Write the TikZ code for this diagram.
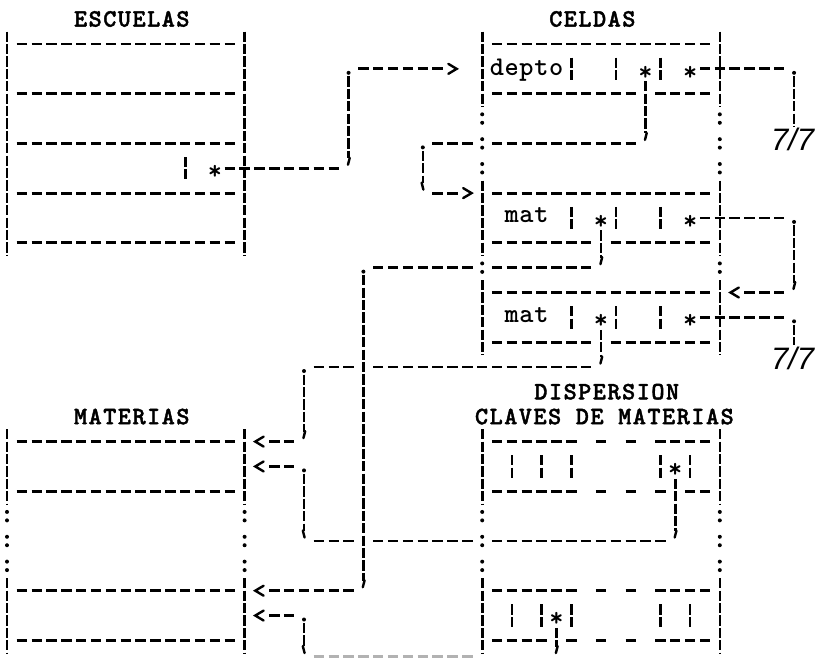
\documentclass[tikz,border=0pt]{standalone}
\usepackage{fontspec}
\setsansfont{Liberation Sans}
\newfontfamily\twfont{lmmonolt10-bold.otf}[LetterSpace=2.4]
\newfontfamily\ttlfont{lmmonolt10-bold.otf}[LetterSpace=6,FakeBold=1.6]
\usetikzlibrary{calc}

% one typewriter cell: 14.85pt wide, 24.85pt high
\tikzset{
  hd/.style={line width=2.8pt,dash pattern=on 10.4pt off 4.45pt},
  vd/.style={line width=2.6pt,dash pattern=on 10.2pt off 2.2pt},
  tk/.style={line width=2.4pt,line cap=round},
  tw/.style={font=\twfont\fontsize{27}{27}\selectfont,inner sep=0pt,anchor=base west},
  ttl/.style={font=\ttlfont\fontsize{25}{25}\selectfont,inner sep=0pt,anchor=base west},
  ast/.style={tw,anchor=base},
  nil/.style={font=\sffamily\itshape\fontsize{31}{31}\selectfont,inner sep=0pt}
}
\newcommand{\hrun}[3]{\draw[hd] (#1-0.35,#3) -- (#2+0.35,#3);}
\newcommand{\vrun}[3]{\draw[vd] (#1,#2-0.5) -- (#1,#3+0.5);}
\newcommand{\fbar}[2]{\draw[vd] (#1,#2-0.45) -- (#1,#2+0.45);}
\newcommand{\colons}[3]{\foreach \rw in {#2,...,#3}{\fill (#1,\rw-0.17) circle (2pt) (#1,\rw+0.17) circle (2pt);}}
\newcommand{\pdot}[2]{\fill (#1,#2+0.16) circle (2pt);}
\newcommand{\aps}[2]{\draw[tk] (#1+0.08,#2-0.42) -- (#1-0.04,#2-0.14);}
\newcommand{\bqt}[2]{\draw[tk] (#1-0.08,#2-0.42) -- (#1+0.04,#2-0.14);}
\newcommand{\tipR}[2]{\draw[tk] (#1-0.28,#2-0.2) -- (#1+0.28,#2) -- (#1-0.28,#2+0.2);}
\newcommand{\tipL}[2]{\draw[tk] (#1+0.28,#2-0.2) -- (#1-0.28,#2) -- (#1+0.28,#2+0.2);}

\begin{document}
\begin{tikzpicture}[x=14.85pt,y=-24.85pt]
  \useasboundingbox (-7pt,44pt) rectangle (812pt,-620pt);
  % titles
  \node[ttl] (tEsc) at (4.5,-0.7) {ESCUELAS};
  \node[ttl] (tCel) at (36.5,-0.7) {CELDAS};
  \node[ttl] (tDis) at (35.5,14.3) {DISPERSION};
  \node[ttl] (tCla) at (31.5,15.3) {CLAVES DE MATERIAS};
  \node[ttl] (tMat) at (4.5,15.3) {MATERIAS};

  % ESCUELAS
  \vrun{0}{0}{8} \vrun{16}{0}{8}
  \foreach \rw in {0,2,4,6,8} {\hrun{1}{15}{\rw}}
  \fbar{12}{5}
  \node[ast] (sEsc) at (14,5.45) {*};
  \hrun{15}{22}{5} \aps{23}{5}
  \draw[vd] (23,1.3) -- (23,4.6);
  \pdot{23}{1} \hrun{24}{29}{1} \tipR{30}{1}

  % CELDAS
  \foreach \cl in {32,48} {
    \vrun{\cl}{0}{2} \vrun{\cl}{6}{8} \vrun{\cl}{10}{12}
    \colons{\cl}{3}{5} \colons{\cl}{9}{9}
  }
  \hrun{33}{47}{0}
  \node[tw] (depto) at (32.5,1.26) {depto};
  \fbar{38}{1} \fbar{41}{1} \fbar{44}{1}
  \node[ast] (sDep) at (43,1.45) {*};
  \node[ast] (sNx0) at (46,1.45) {*};
  \hrun{47}{52}{1} \pdot{53}{1}
  \draw[vd] (53,1.3) -- (53,3.3);
  \node[nil] (nil1) at (52.9,3.82) {7/7};
  \hrun{33}{42}{2} \hrun{44}{47}{2}
  \draw[vd] (43,1.5) -- (43,3.6); \aps{43}{4}
  \hrun{33}{42}{4} \hrun{29}{31}{4} \pdot{28}{4}
  \draw[vd] (28,4.3) -- (28,5.6); \bqt{28}{6}
  \hrun{29}{30}{6} \tipR{31}{6}
  \hrun{33}{47}{6}
  % first mat
  \node[tw] (mat1) at (33.5,7.2) {mat};
  \fbar{38}{7} \fbar{41}{7} \fbar{44}{7}
  \node[ast] (sMt1) at (40,7.45) {*};
  \node[ast] (sNx1) at (46,7.45) {*};
  \hrun{47}{52}{7} \pdot{53}{7}
  \draw[vd] (53,7.3) -- (53,9.6); \aps{53}{10}
  \tipL{49}{10} \hrun{50}{52}{10}
  \hrun{33}{39}{8} \hrun{41}{47}{8}
  \draw[vd] (40,7.5) -- (40,8.6); \aps{40}{9}
  \hrun{33}{39}{9} \hrun{25}{31}{9} \pdot{24}{9}
  \draw[vd] (24,9.3) -- (24,21.6); \aps{24}{22}
  \hrun{18}{23}{22} \tipL{17}{22}
  \hrun{33}{47}{10}
  % second mat
  \node[tw] (mat2) at (33.5,11.2) {mat};
  \fbar{38}{11} \fbar{41}{11} \fbar{44}{11}
  \node[ast] (sMt2) at (40,11.45) {*};
  \node[ast] (sNx2) at (46,11.45) {*};
  \hrun{47}{52}{11} \pdot{53}{11}
  \draw[vd] (53,11.3) -- (53,12.1);
  \node[nil] (nil2) at (52.9,12.64) {7/7};
  \hrun{33}{39}{12} \hrun{41}{47}{12}
  \draw[vd] (40,11.5) -- (40,12.6); \aps{40}{13}
  \hrun{25}{39}{13} \hrun{21}{23}{13} \pdot{20}{13}
  \draw[vd] (20,13.3) -- (20,15.6); \aps{20}{16}
  \hrun{18}{19}{16} \tipL{17}{16}

  % DISPERSION
  \foreach \cl in {32,48} {
    \vrun{\cl}{16}{18} \vrun{\cl}{22}{24} \colons{\cl}{19}{21}
  }
  \foreach \rw in {16,22} {
    \hrun{33}{38}{\rw} \hrun{40}{40}{\rw} \hrun{42}{42}{\rw} \hrun{44}{47}{\rw}
  }
  \foreach \cl in {34,36,38,44,46} {\fbar{\cl}{17} \fbar{\cl}{23}}
  \node[ast] (sDs1) at (45,17.45) {*};
  \hrun{33}{38}{18} \hrun{40}{40}{18} \hrun{42}{42}{18} \hrun{44}{44}{18} \hrun{46}{47}{18}
  \draw[vd] (45,17.5) -- (45,19.6); \aps{45}{20}
  \hrun{33}{44}{20} \hrun{25}{31}{20} \hrun{21}{23}{20} \bqt{20}{20}
  \draw[vd] (20,17.3) -- (20,19.6); \pdot{20}{17}
  \hrun{18}{19}{17} \tipL{17}{17}
  \node[ast] (sDs2) at (37,23.45) {*};
  \hrun{33}{36}{24} \hrun{38}{38}{24} \hrun{40}{40}{24} \hrun{42}{42}{24} \hrun{44}{47}{24}
  \draw[vd] (37,23.5) -- (37,24.25); \aps{37}{24.65}
  \begin{scope}[gray!60]
    \hrun{21}{31}{24.65}
  \end{scope}
  \bqt{20}{24.65}
  \draw[vd] (20,23.3) -- (20,24.25); \pdot{20}{23}
  \hrun{18}{19}{23} \tipL{17}{23}

  % MATERIAS
  \foreach \cl in {0,16} {
    \vrun{\cl}{16}{18} \vrun{\cl}{22}{24} \colons{\cl}{19}{21}
  }
  \foreach \rw in {16,18,22,24} {\hrun{1}{15}{\rw}}
\end{tikzpicture}
\end{document}
